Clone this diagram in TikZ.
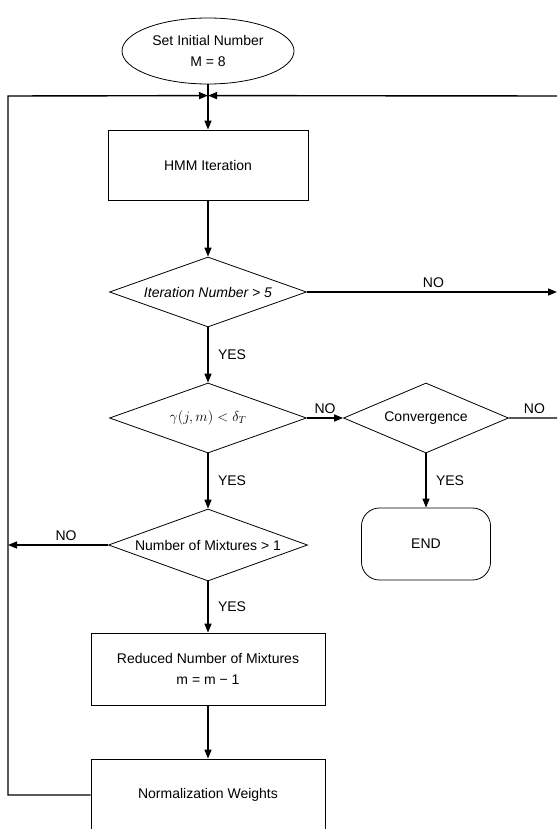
\documentclass[tikz,border=0pt]{standalone}
\usepackage{fontspec}
\setmainfont{Liberation Sans}
\usetikzlibrary{arrows.meta}
\usetikzlibrary{calc}
\usetikzlibrary{shapes.geometric}

\newcommand{\dtext}[1]{\makebox[0pt]{#1}}

\begin{document}
\begin{tikzpicture}[x=1pt,y=1pt,->,>={Triangle[length=9pt,width=7pt]},line width=1.4pt,
  node distance=126pt,
  every node/.style={font=\fontsize{14}{21}\selectfont},
  box/.style={rectangle,draw,line width=0.8pt,minimum width=234pt,minimum height=72pt,align=center},
  decision/.style={diamond,draw,line width=0.8pt,minimum width=197pt,minimum height=70pt,inner sep=0pt},
  terminal/.style={rectangle,rounded corners=18pt,draw,line width=0.8pt,minimum width=129pt,minimum height=72pt},
  start/.style={ellipse,draw,line width=0.8pt,minimum width=172pt,minimum height=66pt,inner sep=0pt,align=center}]

  \path[use as bounding box,clip] (0,0) rectangle (557,-829);

  \node[box,minimum width=200pt,minimum height=70pt] (HMM) at (208,-165) {HMM Iteration};
  \node[start] (init) [above of=HMM,node distance=114pt] {Set Initial Number\\M = 8};
  \node[decision] (iter) [below of=HMM,node distance=127pt] {\dtext{\itshape Iteration Number > 5}};
  \node[decision] (gam) [below of=iter] {\dtext{$\gamma(j,m)<\delta_T$}};
  \node[decision,minimum width=199pt,minimum height=72pt] (mix) [below of=gam,node distance=127pt] {\dtext{Number of Mixtures > 1}};
  \node[decision,minimum width=165pt] (conv) [right of=gam,node distance=218pt] {\dtext{Convergence}};
  \node[terminal] (end) [below of=conv] {END};
  \node[box] (red) [below of=mix,node distance=124pt] {Reduced Number of Mixtures\\m = m − 1};
  \node[box] (norm) [below of=red] {Normalization Weights};

  \coordinate (J) at ($(HMM.north)+(0,34)$);
  \coordinate (L) at (8,-96);
  \coordinate (R) at (560,-96);

  \path
    (init) edge (HMM)
    (HMM) edge (iter)
    (iter) edge node[right=6pt] {YES} (gam)
    (iter.east) edge[shorten >=3pt] node[above] {NO} (R |- iter)
    (gam) edge node[right=6pt] {YES} (mix)
    (gam) edge node[above] {NO} (conv)
    (conv) edge node[right=6pt] {YES} (end)
    (mix) edge node[right=6pt] {YES} (red)
    (mix.west) edge node[above,pos=0.42] {NO} (L |- mix)
    (red) edge (norm);

  \draw (norm.west) -- (L |- norm) -- (L) -- (J);
  \draw (conv.east) -- node[above] {NO} (R |- conv) -- (R) -- (J);
\end{tikzpicture}
\end{document}
